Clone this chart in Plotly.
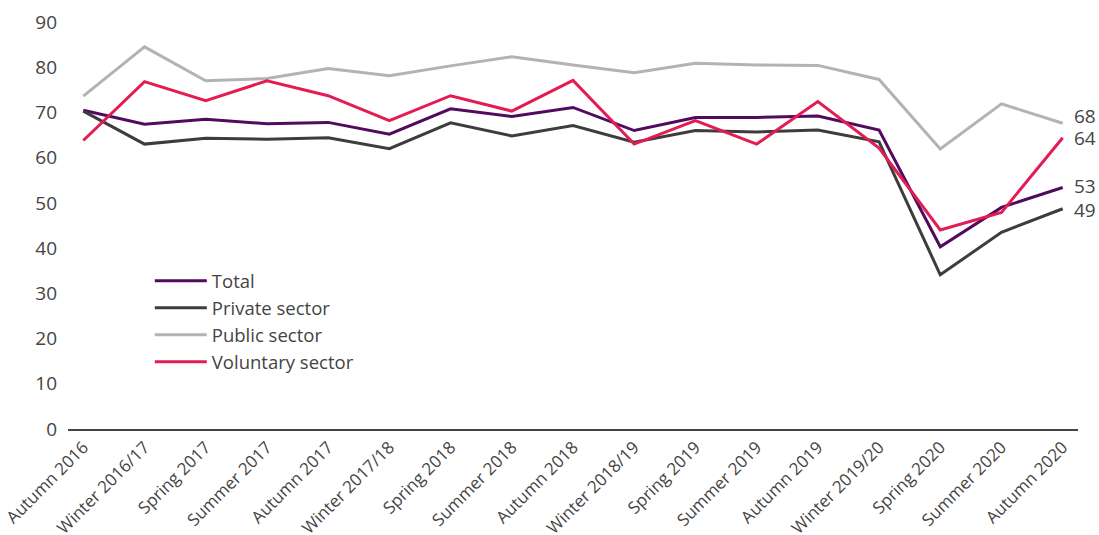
import plotly.graph_objects as go

periods = [
    "Autumn 2016", "Winter 2016/17", "Spring 2017", "Summer 2017", "Autumn 2017",
    "Winter 2017/18", "Spring 2018", "Summer 2018", "Autumn 2018", "Winter 2018/19",
    "Spring 2019", "Summer 2019", "Autumn 2019", "Winter 2019/20", "Spring 2020",
    "Summer 2020", "Autumn 2020",
]
total = [70.5, 67.4, 68.5, 67.5, 67.8, 65.2, 70.8, 69.1, 71.1, 66.0,
         68.9, 68.9, 69.2, 66.1, 40.3, 49.0, 53.4]
private = [70.3, 63.0, 64.3, 64.1, 64.4, 62.0, 67.7, 64.8, 67.1, 63.4,
           66.0, 65.7, 66.1, 63.5, 34.1, 43.5, 48.7]
public = [73.6, 84.5, 77.0, 77.5, 79.7, 78.1, 80.3, 82.3, 80.5, 78.8,
          80.9, 80.5, 80.4, 77.3, 61.9, 71.9, 67.6]
voluntary = [63.8, 76.8, 72.6, 77.0, 73.7, 68.2, 73.7, 70.3, 77.1, 63.0,
             68.2, 63.0, 72.4, 62.1, 44.0, 47.9, 64.4]
y_ticks = [0, 10, 20, 30, 40, 50, 60, 70, 80, 90]

series = [
    ("Total", total, "#520a5e", 2),
    ("Private sector", private, "#3d3d3d", -1),
    ("Public sector", public, "#b3b3b3", 7),
    ("Voluntary sector", voluntary, "#e31c53", 0),
]

FONT = "Open Sans"
fig = go.Figure()
for name, vals, color, shift in series:
    fig.add_trace(go.Scatter(
        x=list(range(len(periods))), y=vals, name=name, mode="lines",
        line=dict(color=color, width=3),
    ))
    fig.add_annotation(
        x=len(periods) - 1, y=vals[-1], text=str(round(vals[-1])),
        xanchor="left", xshift=9, yshift=shift, showarrow=False,
        font=dict(family=FONT, size=19, color="#444444"),
    )

fig.update_layout(
    width=1099, height=535,
    margin=dict(l=68, r=21, t=22, b=106, autoexpand=False),
    paper_bgcolor="white", plot_bgcolor="white",
    font=dict(family=FONT, color="#444444"),
    showlegend=True,
    legend=dict(
        x=0.081, y=0.41, xanchor="left", yanchor="top",
        font=dict(family=FONT, size=18.5, color="#444444"),
        bgcolor="rgba(0,0,0,0)", tracegroupgap=0, itemwidth=52,
    ),
    xaxis=dict(
        range=[-0.25, len(periods) - 0.75], automargin=False,
        tickmode="array", tickvals=list(range(len(periods))), ticktext=periods,
        tickangle=-45, tickfont=dict(family=FONT, size=17, color="#444444"),
        showgrid=False, zeroline=False, showline=True, linecolor="#444444",
        linewidth=1.5, ticks="",
    ),
    yaxis=dict(
        range=[0, 90], tickvals=y_ticks, showgrid=False, zeroline=False,
        showline=False, automargin=False,
        tickfont=dict(family=FONT, size=19, color="#444444"),
        ticks="", ticklabelstandoff=10,
    ),
)

fig.write_html(
    "out.html",
    config={"displayModeBar": False},
    post_script="document.body.style.margin = '0';",
)
